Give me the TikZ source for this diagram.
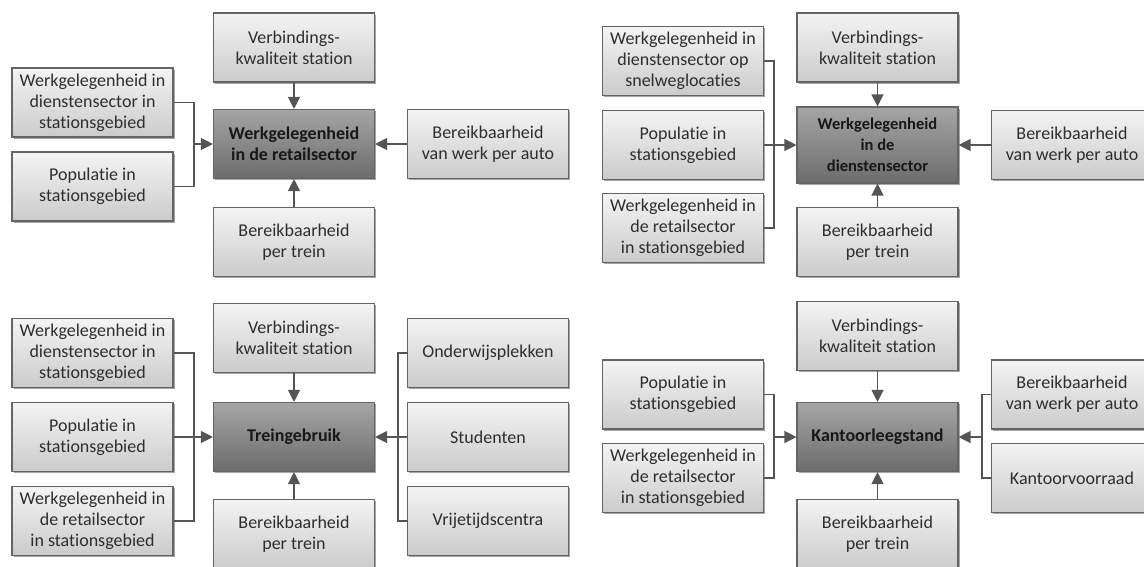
\documentclass[tikz,border=0pt]{standalone}
\usepackage{fontspec}
\setmainfont{Carlito}[Ligatures=NoCommon]
\usetikzlibrary{arrows.meta,shadows}
\definecolor{bordc}{HTML}{646464}
\definecolor{txtc}{HTML}{2E2E2E}
\definecolor{linec}{HTML}{555555}
\definecolor{lighttop}{HTML}{F4F4F4}
\definecolor{lightbot}{HTML}{CBCBCB}
\definecolor{darktop}{HTML}{A5A5A5}
\definecolor{darkbot}{HTML}{6C6C6C}
\definecolor{hubtxt}{HTML}{181818}
\begin{document}
\begin{tikzpicture}[x=1pt,y=-1pt,
  box/.style={draw=bordc, line width=1.1pt, top color=lighttop, bottom color=lightbot,
    minimum width=161pt, minimum height=69pt, inner sep=2pt, align=center, text=txtc,
    font=\fontsize{18}{21}\selectfont,
    drop shadow={shadow xshift=1.5pt, shadow yshift=-1.5pt, opacity=0.35, fill=black}},
  hub/.style={box, top color=darktop, bottom color=darkbot, text=hubtxt,
    font=\fontsize{18}{21}\selectfont\bfseries},
  link/.style={draw=linec, line width=1.2pt},
  arr/.style={link, -{Triangle[length=12pt,width=12pt]}}]
\useasboundingbox (0,0) rectangle (1144,566);
\clip (0,0) rectangle (1144,566);

% ---------- Q1 ----------
\node[box] (q1v) at (294,47.5) {Verbindings-\\kwaliteit station};
\node[hub] (q1c) at (294,144) {Werkgelegenheid\\in de retailsector};
\node[box] (q1a) at (92.5,102.5) {Werkgelegenheid in\\dienstensector in\\stationsgebied};
\node[box] (q1b) at (92.5,186.5) {Populatie in\\stationsgebied};
\node[box] (q1t) at (294,242) {Bereikbaarheid\\per trein};
\node[box] (q1r) at (488,144) {Bereikbaarheid\\van werk per auto};
\coordinate (q1j) at (194,144);
\draw[link] (q1a.east) -| (q1j);
\draw[link] (q1b.east) -| (q1j);
\draw[arr] (q1j) -- (q1c.west);
\draw[arr] (q1v) -- (q1c);
\draw[arr] (q1t) -- (q1c);
\draw[arr] (q1r) -- (q1c);

% ---------- Q2 ----------
\node[box] (q2v) at (877.5,47.5) {Verbindings-\\kwaliteit station};
\node[hub, minimum height=76pt, font=\fontsize{16.5}{21}\selectfont\bfseries] (q2c) at (877.5,145) {Werkgelegenheid\\in de\\dienstensector};
\node[box] (q2a) at (683,61) {Werkgelegenheid in\\dienstensector op\\snelweglocaties};
\node[box] (q2b) at (683,145) {Populatie in\\stationsgebied};
\node[box] (q2d) at (683,228) {Werkgelegenheid in\\de retailsector\\in stationsgebied};
\node[box] (q2t) at (877.5,242) {Bereikbaarheid\\per trein};
\node[box] (q2r) at (1072,145) {Bereikbaarheid\\van werk per auto};
\coordinate (q2j) at (774,145);
\draw[link] (q2a.east) -| (q2j);
\draw[link] (q2d.east) -| (q2j);
\draw[arr] (q2b.east) -- (q2c.west);
\draw[arr] (q2v) -- (q2c);
\draw[arr] (q2t) -- (q2c);
\draw[arr] (q2r) -- (q2c);

% ---------- Q3 ----------
\node[box] (q3v) at (294,338) {Verbindings-\\kwaliteit station};
\node[hub] (q3c) at (294,437) {Treingebruik};
\node[box] (q3a) at (92.5,353) {Werkgelegenheid in\\dienstensector in\\stationsgebied};
\node[box] (q3b) at (92.5,437) {Populatie in\\stationsgebied};
\node[box] (q3d) at (92.5,521) {Werkgelegenheid in\\de retailsector\\in stationsgebied};
\node[box] (q3e) at (488,353) {Onderwijsplekken};
\node[box] (q3f) at (488,437) {Studenten};
\node[box] (q3g) at (488,521) {Vrijetijdscentra};
\node[box] (q3t) at (294,534) {Bereikbaarheid\\per trein};
\coordinate (q3j) at (194,437);
\coordinate (q3k) at (398,437);
\draw[link] (q3a.east) -| (q3j);
\draw[link] (q3d.east) -| (q3j);
\draw[arr] (q3b.east) -- (q3c.west);
\draw[link] (q3e.west) -| (q3k);
\draw[link] (q3g.west) -| (q3k);
\draw[arr] (q3f.west) -- (q3c.east);
\draw[arr] (q3v) -- (q3c);
\draw[arr] (q3t) -- (q3c);

% ---------- Q4 ----------
\node[box] (q4v) at (877.5,336) {Verbindings-\\kwaliteit station};
\node[hub] (q4c) at (877.5,437) {Kantoorleegstand};
\node[box] (q4a) at (683,394.5) {Populatie in\\stationsgebied};
\node[box] (q4b) at (683,478) {Werkgelegenheid in\\de retailsector\\in stationsgebied};
\node[box] (q4r) at (1072,394.5) {Bereikbaarheid\\van werk per auto};
\node[box] (q4s) at (1072,478) {Kantoorvoorraad};
\node[box] (q4t) at (877.5,534) {Bereikbaarheid\\per trein};
\coordinate (q4j) at (774,437);
\coordinate (q4k) at (982,437);
\draw[link] (q4a.east) -| (q4j);
\draw[link] (q4b.east) -| (q4j);
\draw[arr] (q4j) -- (q4c.west);
\draw[link] (q4r.west) -| (q4k);
\draw[link] (q4s.west) -| (q4k);
\draw[arr] (q4k) -- (q4c.east);
\draw[arr] (q4v) -- (q4c);
\draw[arr] (q4t) -- (q4c);
\end{tikzpicture}
\end{document}
